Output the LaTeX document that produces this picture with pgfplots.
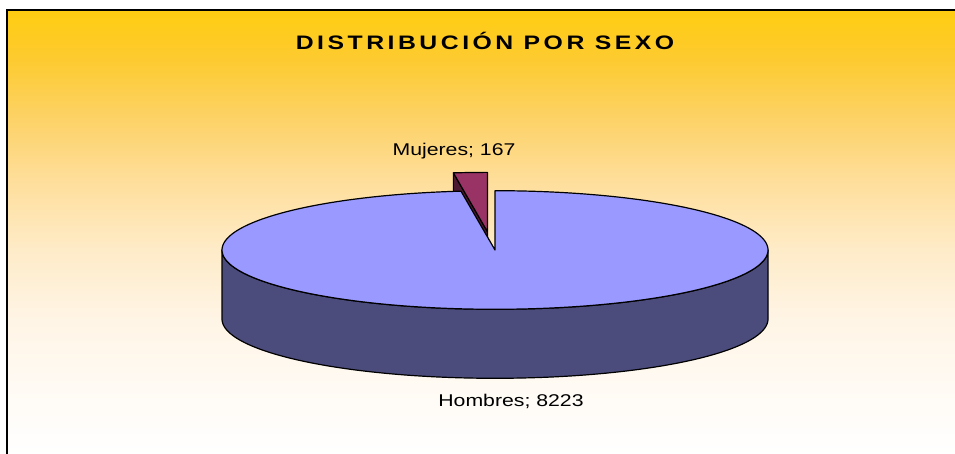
\documentclass[border=0pt]{standalone}
\usepackage{fontspec}
\setmainfont{Liberation Sans}
\newfontfamily\titlefont[LetterSpace=18, FakeStretch=1.27]{Liberation Sans}
\newfontfamily\labelfont[FakeStretch=1.25]{Liberation Sans}
\usepackage{pgfplots}
\pgfplotsset{compat=1.18}
\definecolor{topblue}{HTML}{9999FF}
\definecolor{sideblue}{HTML}{4B4B7C}
\definecolor{topmar}{HTML}{993366}
\definecolor{sidemar}{HTML}{4D1A33}
\definecolor{c1}{HTML}{FFFBF6}
\definecolor{c2}{HTML}{FFF5E6}
\definecolor{c3}{HTML}{FEEBC8}
\definecolor{c4}{HTML}{FEDE9A}
\definecolor{c5}{HTML}{FDD268}
\definecolor{c6}{HTML}{FDCB30}
\definecolor{c7}{HTML}{FFCC11}
\pgfdeclareverticalshading{bg}{100bp}{color(0bp)=(white); color(25bp)=(white); color(31.08bp)=(c1); color(40.09bp)=(c2); color(47.97bp)=(c3); color(55.86bp)=(c4); color(62.61bp)=(c5); color(69.37bp)=(c6); color(75bp)=(c7); color(100bp)=(c7)}
% data
\def\valH{8223}% Hombres
\def\valM{167}% Mujeres
\pgfmathsetmacro{\fracM}{\valM/(\valH+\valM)}
\pgfmathsetmacro{\angM}{360*\fracM}
\pgfmathsetmacro{\aEnd}{90+\angM}
% geometry (1 axis unit = 1pt)
\def\cx{495}\def\cy{204}\def\rx{273}\def\ry{59.3}\def\dep{69}%
\def\ox{-7.6}\def\oy{18.3}%
\pgfmathsetmacro{\mx}{\cx+\ox}
\pgfmathsetmacro{\my}{\cy+\oy}
\pgfmathsetmacro{\px}{\mx+\rx*cos(\aEnd)}
\pgfmathsetmacro{\py}{\my+\ry*sin(\aEnd)}
\pgfmathsetmacro{\myd}{\my-\dep}
\pgfmathsetmacro{\pyd}{\py-\dep}
\pgfmathsetmacro{\rxr}{\cx+\rx}
\begin{document}%
\begin{tikzpicture}
\fill[white] (0pt,0pt) rectangle (955pt,454pt);
\shade[shading=bg] (7pt,0pt) rectangle (955pt,444pt);
\draw[line width=1.5pt] (7pt,0pt) -- (7pt,444pt) -- (955pt,444pt);
\begin{axis}[at={(0pt,0pt)}, anchor=south west, width=955pt, height=454pt,
  scale only axis, xmin=0, xmax=955, ymin=0, ymax=454, hide axis, clip=false]
\addplot[fill=sidemar, draw=black, line width=1.2pt, line join=round]
  coordinates {(\mx,\my) (\px,\py) (\px,\pyd) (\mx,\myd)} -- cycle;
\addplot[fill=topmar, draw=black, line width=1.2pt, line join=round,
  domain=90:\aEnd, samples=10]
  ({\mx+\rx*cos(x)},{\my+\ry*sin(x)}) -- (\mx,\my) -- cycle;
\addplot[fill=sideblue, draw=black, line width=1.2pt, line join=round,
  domain=180:360, samples=121]
  ({\cx+\rx*cos(x)},{\cy-\dep+\ry*sin(x)}) -- (\rxr,\cy)
  arc[start angle=0, end angle=-180, x radius=\rx pt, y radius=\ry pt] -- cycle;
\addplot[fill=topblue, draw=black, line width=1.2pt, line join=round,
  domain=\aEnd:450, samples=241]
  ({\cx+\rx*cos(x)},{\cy+\ry*sin(x)}) -- (\cx,\cy) -- cycle;
\end{axis}
\node[anchor=base, inner sep=0pt, font={\titlefont\fontsize{19.5}{24}\selectfont\bfseries}] at (485pt,404.5pt) {DISTRIBUCIÓN POR SEXO};
\node[anchor=base, inner sep=0pt, font={\labelfont\fontsize{17}{21}\selectfont}] at (454pt,298.3pt) {Mujeres; 167};
\node[anchor=base, inner sep=0pt, font={\labelfont\fontsize{17}{21}\selectfont}] at (511pt,47pt) {Hombres; 8223};
\pgfresetboundingbox
\useasboundingbox (0pt,0pt) rectangle (955pt,454pt);
\end{tikzpicture}%
\end{document}
